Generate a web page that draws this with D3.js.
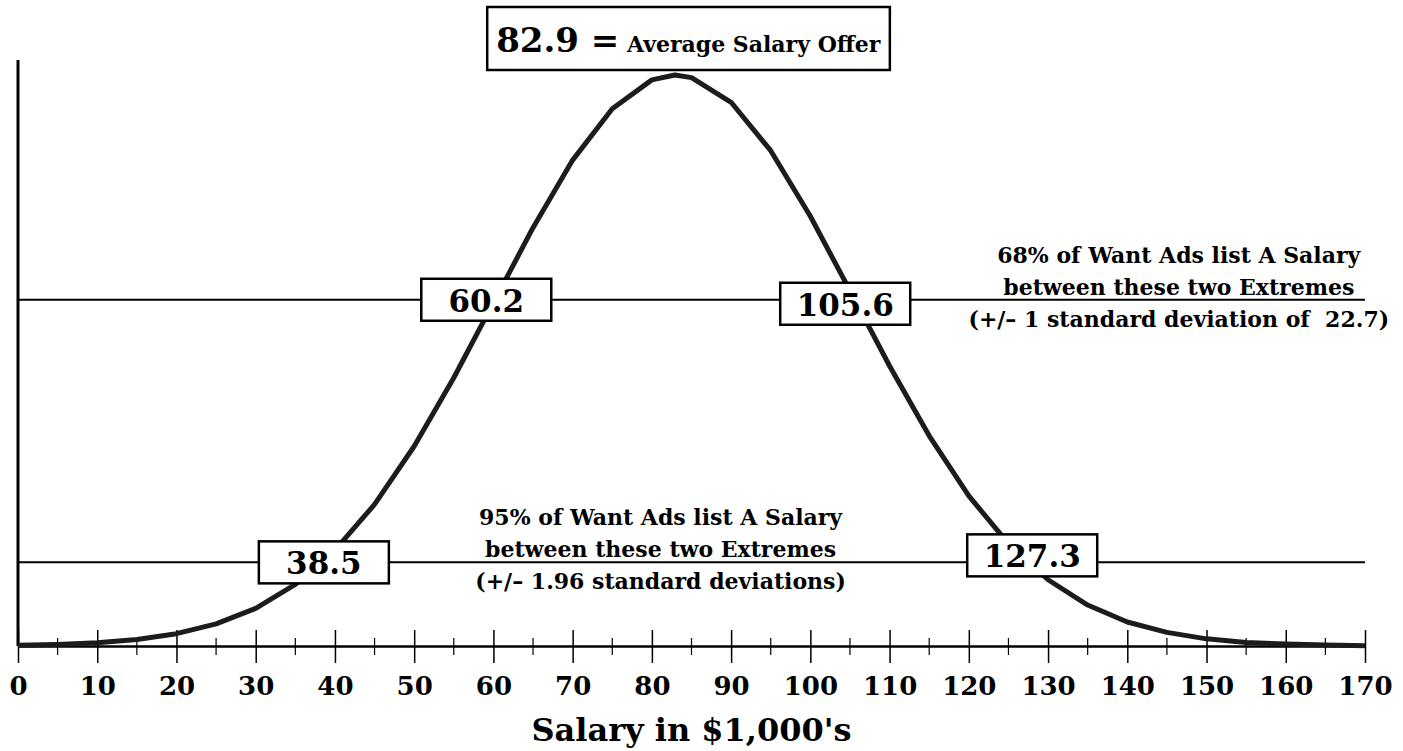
<!DOCTYPE html>
<html>
<head>
<meta charset="utf-8">
<script src="https://cdn.jsdelivr.net/npm/d3@7"></script>
<style>
  body { margin: 0; background: #fff; }
  text { font-family: "DejaVu Serif", serif; font-weight: bold; fill: #000; white-space: pre; }
</style>
</head>
<body>
<div id="chart"></div>
<script>
// salary (in $1,000's) where the curve has a vertex, and the curve height there
const salaryK = [0, 5, 10, 15, 20, 25, 30, 35, 40, 45, 50, 55, 60, 65, 70, 75, 80, 82.9,
                 85, 90, 95, 100, 105, 110, 115, 120, 125, 130, 135, 140, 145, 150, 155, 160, 165, 170];
const density = [0.00002, 0.00005, 0.00010, 0.00020, 0.00038, 0.00068, 0.00116, 0.00190, 0.00295,
                 0.00436, 0.00615, 0.00826, 0.01057, 0.01288, 0.01496, 0.01654, 0.01743, 0.01758,
                 0.01750, 0.01674, 0.01525, 0.01323, 0.01094, 0.00862, 0.00647, 0.00462, 0.00315,
                 0.00204, 0.00126, 0.00074, 0.00042, 0.00022, 0.00011, 0.00006, 0.00003, 0.00001];

const majorTicks = [0, 10, 20, 30, 40, 50, 60, 70, 80, 90, 100, 110, 120, 130, 140, 150, 160, 170];
const minorTicks = [5, 15, 25, 35, 45, 55, 65, 75, 85, 95, 105, 115, 125, 135, 145, 155, 165];

// the two bands: curve height of the band line, low and high limits
const bandLevel = [0.01066, 0.002575];
const bandLow = ["60.2", "38.5"];
const bandHigh = ["105.6", "127.3"];
const bandNote = [
  ["68% of Want Ads list A Salary", "between these two Extremes", "(+/\u2013 1 standard deviation of  22.7)"],
  ["95% of Want Ads list A Salary", "between these two Extremes", "(+/\u2013 1.96 standard deviations)"]
];
const meanValue = "82.9";
const meanText = "Average Salary Offer";
const xTitle = "Salary in $1,000's";

// where the boxes and notes sit, in salary units
const lowBoxAt = [59.1, 38.6];
const highBoxAt = [104.4, 128.0];
const highBoxShift = [4, -7];
const noteAt = [146.5, 81.1];

const W = 1403, H = 751;
const x = d3.scaleLinear([0, 170], [18, 1365]);
const y = d3.scaleLinear([0, 0.01758], [646, 75]);

const svg = d3.select("#chart").append("svg")
  .attr("width", W)
  .attr("height", H);

// band lines (under everything)
bandLevel.forEach(function(lv) {
  svg.append("line")
    .attr("x1", x(0)).attr("x2", x(170))
    .attr("y1", y(lv)).attr("y2", y(lv))
    .attr("stroke", "#000")
    .attr("stroke-width", 2);
});

// left axis line
svg.append("line")
  .attr("x1", x(0)).attr("x2", x(0))
  .attr("y1", 60).attr("y2", y(0))
  .attr("stroke", "#000")
  .attr("stroke-width", 3);

// x axis with major and minor ticks
const xAxisMajor = d3.axisBottom(x).tickValues(majorTicks).tickSize(17).tickSizeOuter(0).tickFormat(d3.format("d"));
const gx = svg.append("g")
  .attr("transform", `translate(0, ${y(0)})`)
  .call(xAxisMajor);
gx.select(".domain").attr("stroke", "#000").attr("stroke-width", 2.5);
gx.selectAll(".tick line").attr("y1", -16).attr("stroke", "#000").attr("stroke-width", 1.5);
gx.selectAll(".tick text")
  .attr("y", 49)
  .attr("dy", 0)
  .style("font-family", "DejaVu Serif, serif")
  .style("font-weight", "bold")
  .style("font-size", "26px")
  .attr("fill", "#000");

svg.append("g")
  .selectAll("line")
  .data(minorTicks)
  .join("line")
  .attr("x1", d => x(d)).attr("x2", d => x(d))
  .attr("y1", y(0) - 8).attr("y2", y(0) + 9)
  .attr("stroke", "#000")
  .attr("stroke-width", 1.2);

// the curve
const line = d3.line()
  .x((d, i) => x(salaryK[i]))
  .y(d => y(d));

svg.append("path")
  .datum(density)
  .attr("d", line)
  .attr("fill", "none")
  .attr("stroke", "#1c1c1c")
  .attr("stroke-width", 5)
  .attr("stroke-linejoin", "round");

// boxes on the band lines
function valueBox(cx, cy, label) {
  const g = svg.append("g");
  g.append("rect")
    .attr("x", cx - 65).attr("y", cy - 21)
    .attr("width", 130).attr("height", 42)
    .attr("fill", "#fff")
    .attr("stroke", "#000")
    .attr("stroke-width", 2.5);
  g.append("text")
    .attr("x", cx).attr("y", cy + 12)
    .attr("text-anchor", "middle")
    .style("font-size", "31px")
    .text(label);
}

bandLevel.forEach(function(lv, i) {
  valueBox(x(lowBoxAt[i]), y(lv), bandLow[i]);
  valueBox(x(highBoxAt[i]), y(lv) + highBoxShift[i], bandHigh[i]);

  const note = svg.append("text")
    .attr("text-anchor", "middle")
    .style("font-size", "22px");
  const offs = [-37, -5, 27];
  bandNote[i].forEach(function(t, k) {
    note.append("tspan")
      .attr("x", x(noteAt[i]))
      .attr("y", y(lv) + offs[k])
      .text(t);
  });
});

// mean box at the top
const meanBox = svg.append("g");
const meanLabel = meanBox.append("text")
  .attr("x", x(84.6))
  .attr("y", 52)
  .attr("text-anchor", "middle");
meanLabel.append("tspan").style("font-size", "34px").text(meanValue + " =");
meanLabel.append("tspan").style("font-size", "22px").text(" " + meanText);
const bb = meanLabel.node().getBBox();
meanBox.insert("rect", "text")
  .attr("x", bb.x - 9).attr("y", 7)
  .attr("width", bb.width + 18).attr("height", 63)
  .attr("fill", "#fff")
  .attr("stroke", "#000")
  .attr("stroke-width", 2.5);

// x title
svg.append("text")
  .attr("x", x(85))
  .attr("y", 741)
  .attr("text-anchor", "middle")
  .style("font-size", "32px")
  .text(xTitle);
</script>
</body>
</html>
